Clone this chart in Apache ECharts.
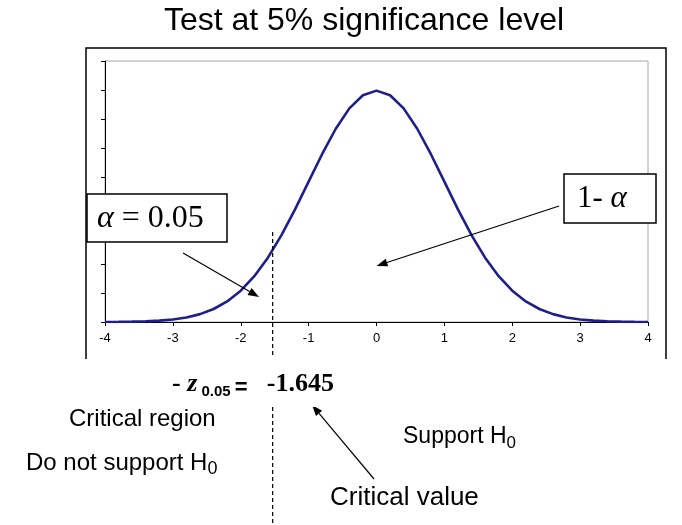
<!DOCTYPE html>
<html>
<head>
<meta charset="utf-8">
<script src="https://cdn.jsdelivr.net/npm/echarts@6/dist/echarts.min.js"></script>
<style>
  html, body { margin: 0; padding: 0; background: #fff; }
  #chart { width: 682px; height: 525px; }
</style>
</head>
<body>
<div id="chart"></div>
<script>
// z values along the x axis (step 0.2)
const zValues = [
  -4.0, -3.8, -3.6, -3.4, -3.2, -3.0, -2.8, -2.6, -2.4, -2.2,
  -2.0, -1.8, -1.6, -1.4, -1.2, -1.0, -0.8, -0.6, -0.4, -0.2,
  0.0,
  0.2, 0.4, 0.6, 0.8, 1.0, 1.2, 1.4, 1.6, 1.8, 2.0,
  2.2, 2.4, 2.6, 2.8, 3.0, 3.2, 3.4, 3.6, 3.8, 4.0
];
// curve height
const density = [
  0.0001, 0.0003, 0.0006, 0.0012, 0.0024, 0.0044, 0.0079, 0.0136, 0.0224, 0.0355,
  0.0540, 0.0790, 0.1109, 0.1497, 0.1942, 0.2420, 0.2897, 0.3332, 0.3683, 0.3910,
  0.3989,
  0.3910, 0.3683, 0.3332, 0.2897, 0.2420, 0.1942, 0.1497, 0.1109, 0.0790, 0.0540,
  0.0355, 0.0224, 0.0136, 0.0079, 0.0044, 0.0024, 0.0012, 0.0006, 0.0003, 0.0001
];

// axis ranges
const xRange = [-4, 4];
const yRange = [0, 0.45];

// where the dashed critical line is drawn, and its top
const criticalX = -1.53;
const criticalTop = 0.155;

// annotation arrows inside the plot, [from, to] in data units
const alphaArrow = [[-2.85, 0.119], [-1.73, 0.043]];
const oneMinusArrow = [[2.69, 0.2], [0.0, 0.0966]];

const SANS = 'Liberation Sans, Arial, sans-serif';
const SERIF = 'Liberation Serif, Times New Roman, serif';

const chart = echarts.init(document.getElementById('chart'));

const option = {
  animation: false,
  grid: {
    left: 105, right: 34, top: 61, bottom: 203,
    show: true,
    borderColor: '#a6a6a6',
    borderWidth: 1
  },
  xAxis: {
    type: 'value',
    min: xRange[0],
    max: xRange[1],
    interval: 1,
    axisLine: { show: true, onZero: false, lineStyle: { color: '#000', width: 1 } },
    axisTick: { show: true, length: 4, lineStyle: { color: '#000' } },
    axisLabel: { color: '#000', fontSize: 13, fontFamily: SANS, margin: 10 },
    splitLine: { show: false }
  },
  yAxis: {
    type: 'value',
    min: yRange[0],
    max: yRange[1],
    interval: 0.05,
    axisLine: { show: true, onZero: false, lineStyle: { color: '#000', width: 1 } },
    axisTick: { show: true, length: 4, lineStyle: { color: '#000' } },
    axisLabel: { show: false },
    splitLine: { show: false }
  },
  series: [
    {
      type: 'line',
      data: zValues.map((z, i) => [z, density[i]]),
      showSymbol: false,
      smooth: false,
      lineStyle: { color: '#1f1f8c', width: 2.6 }
    }
  ]
};

chart.setOption(option);

const px = (p) => chart.convertToPixel({ gridIndex: 0 }, p);

function arrow(from, to) {
  const ang = Math.atan2(to[1] - from[1], to[0] - from[0]);
  const len = 11, half = 4;
  const bx = to[0] - len * Math.cos(ang);
  const by = to[1] - len * Math.sin(ang);
  return [
    {
      type: 'line', z: 100,
      shape: { x1: from[0], y1: from[1], x2: bx, y2: by },
      style: { stroke: '#000', lineWidth: 1.2 }
    },
    {
      type: 'polygon', z: 100,
      shape: {
        points: [
          to,
          [bx - half * Math.sin(ang), by + half * Math.cos(ang)],
          [bx + half * Math.sin(ang), by - half * Math.cos(ang)]
        ]
      },
      style: { fill: '#000' }
    }
  ];
}

const dashTop = px([criticalX, criticalTop]);
const subRich = (size, sub) => ({
  m: { fontSize: size, fontFamily: SANS, lineHeight: 30, verticalAlign: 'middle' },
  s: { fontSize: sub, fontFamily: SANS, lineHeight: 15, verticalAlign: 'bottom' }
});

const graphics = [
  // title
  {
    type: 'text', z: 100,
    style: {
      x: 364, y: 21, text: 'Test at 5% significance level',
      fontSize: 32, fontFamily: SANS, fill: '#000',
      align: 'center', verticalAlign: 'middle'
    }
  },
  // outer frame (open at the bottom)
  {
    type: 'polyline', z: 90,
    shape: { points: [[86, 359], [86, 48], [666, 48], [666, 359]] },
    style: { stroke: '#000', lineWidth: 1.5, fill: null }
  },
  // dashed critical line
  {
    type: 'line', z: 95,
    shape: { x1: dashTop[0], y1: dashTop[1], x2: dashTop[0], y2: 525 },
    style: { stroke: '#000', lineWidth: 1.2, lineDash: [4, 3] }
  },
  // alpha box
  {
    type: 'rect', z: 100,
    shape: { x: 87, y: 194, width: 140, height: 48 },
    style: { fill: '#fff', stroke: '#000', lineWidth: 1.5 }
  },
  {
    type: 'text', z: 101,
    style: {
      x: 97, y: 219, text: '{i|α}{r| = 0.05}',
      verticalAlign: 'middle',
      rich: {
        i: { fontSize: 32, fontFamily: SERIF, fontStyle: 'italic', fill: '#000' },
        r: { fontSize: 32, fontFamily: SERIF, fill: '#000' }
      }
    }
  },
  // 1 - alpha box
  {
    type: 'rect', z: 100,
    shape: { x: 564, y: 174, width: 92, height: 49 },
    style: { fill: '#fff', stroke: '#000', lineWidth: 1.5 }
  },
  {
    type: 'text', z: 101,
    style: {
      x: 577, y: 199, text: '{r|1- }{i|α}',
      verticalAlign: 'middle',
      rich: {
        i: { fontSize: 31, fontFamily: SERIF, fontStyle: 'italic', fill: '#000' },
        r: { fontSize: 31, fontFamily: SERIF, fill: '#000' }
      }
    }
  },
  // critical value label
  {
    type: 'text', z: 101,
    style: {
      x: 168, y: 382,
      text: '{t|- }{zi|z}{s| 0.05 }{e|= }{t|  -1.645}',
      verticalAlign: 'middle',
      backgroundColor: '#fff',
      padding: [12, 4, 8, 4],
      rich: {
        t: { fontSize: 26, fontFamily: SERIF, fontWeight: 'bold', lineHeight: 30, verticalAlign: 'middle' },
        zi: { fontSize: 26, fontFamily: SERIF, fontWeight: 'bold', fontStyle: 'italic', lineHeight: 30, verticalAlign: 'middle' },
        s: { fontSize: 15, fontFamily: SANS, fontWeight: 'bold', lineHeight: 14, verticalAlign: 'bottom' },
        e: { fontSize: 22, fontFamily: SANS, fontWeight: 'bold', lineHeight: 20, verticalAlign: 'bottom' }
      }
    }
  },
  {
    type: 'text', z: 101,
    style: { x: 69, y: 419.5, text: 'Critical region', fontSize: 24, fontFamily: SANS, fill: '#000', verticalAlign: 'middle' }
  },
  {
    type: 'text', z: 101,
    style: { x: 26, y: 463.5, text: '{m|Do not support H}{s|0}', verticalAlign: 'middle', rich: subRich(24, 18) }
  },
  {
    type: 'text', z: 101,
    style: { x: 403, y: 437, text: '{m|Support H}{s|0}', verticalAlign: 'middle', rich: subRich(23, 17) }
  },
  {
    type: 'text', z: 101,
    style: { x: 330, y: 497.5, text: 'Critical value', fontSize: 26, fontFamily: SANS, fill: '#000', verticalAlign: 'middle' }
  }
]
  .concat(arrow(px(alphaArrow[0]), px(alphaArrow[1])))
  .concat(arrow(px(oneMinusArrow[0]), px(oneMinusArrow[1])))
  .concat(arrow([374, 479], [312, 405]));

chart.setOption({ graphic: graphics });
</script>
</body>
</html>
